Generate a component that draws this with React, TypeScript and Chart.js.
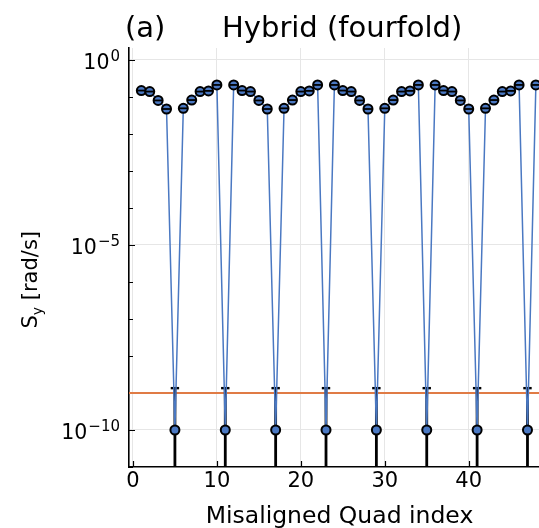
import React, { useEffect, useRef } from "react";
import { Chart, registerables } from "chart.js";

Chart.register(...registerables);

// ---- data ----
const quadIndex = [
  1, 2, 3, 4, 5, 6, 7, 8, 9, 10, 11, 12, 13, 14, 15, 16, 17, 18, 19, 20, 21, 22, 23, 24,
  25, 26, 27, 28, 29, 30, 31, 32, 33, 34, 35, 36, 37, 38, 39, 40, 41, 42, 43, 44, 45, 46, 47, 48,
];
const syValues = [
  0.148, 0.139, 0.08, 0.047, 1e-10, 0.049, 0.082, 0.139, 0.145, 0.21, 1e-10, 0.21,
  0.148, 0.139, 0.08, 0.047, 1e-10, 0.049, 0.082, 0.139, 0.145, 0.21, 1e-10, 0.21,
  0.148, 0.139, 0.08, 0.047, 1e-10, 0.049, 0.082, 0.139, 0.145, 0.21, 1e-10, 0.21,
  0.148, 0.139, 0.08, 0.047, 1e-10, 0.049, 0.082, 0.139, 0.145, 0.21, 1e-10, 0.21,
];
const dipIndex = [5, 11, 17, 23, 29, 35, 41, 47];
const dipUpper = [1.35e-9, 1.35e-9, 1.35e-9, 1.35e-9, 1.35e-9, 1.35e-9, 1.35e-9, 1.35e-9];
const dipLower = [1e-13, 1e-13, 1e-13, 1e-13, 1e-13, 1e-13, 1e-13, 1e-13]; // lower bound below the axis
const thresholdValue = 1e-9;
const xTickValues = [0, 10, 20, 30, 40];
const yTickValues = [1e-10, 1e-5, 1];
const yTickExponents = ["\u221210", "\u22125", "0"];
const yDecades = [1e-11, 1e-10, 1e-9, 1e-8, 1e-7, 1e-6, 1e-5, 1e-4, 1e-3, 1e-2, 1e-1, 1];

const X_MIN = -0.47;
const X_MAX = 51.47;
const Y_MIN = 1e-11;
const Y_MAX = 2.09;

const FONT = "'DejaVu Sans', 'Liberation Sans', sans-serif";
const BLUE = "#4a78c2";
const ORANGE = "#e07b45";

const textPlugin = {
  id: "textPlugin",
  beforeDatasetsDraw(chart: any) {
    const ctx = chart.ctx;
    const { left, bottom } = chart.chartArea;
    const xs = chart.scales.x;
    const ys = chart.scales.y;
    ctx.save();
    ctx.strokeStyle = "#000";
    ctx.lineWidth = 1.2;
    ctx.beginPath();
    yDecades.forEach((v) => {
      const py = Math.round(ys.getPixelForValue(v)) + 0.5;
      const len = yTickValues.includes(v) ? 6 : 4;
      ctx.moveTo(left, py);
      ctx.lineTo(left + len, py);
    });
    xTickValues.forEach((v) => {
      const px = Math.round(xs.getPixelForValue(v)) + 0.5;
      ctx.moveTo(px, bottom);
      ctx.lineTo(px, bottom - 6);
    });
    ctx.stroke();
    ctx.restore();
  },
  afterDraw(chart: any) {
    const ctx = chart.ctx;
    const ys = chart.scales.y;
    const { left } = chart.chartArea;
    ctx.save();
    ctx.fillStyle = "#000";
    ctx.textBaseline = "alphabetic";
    // y tick labels: 10^k with real superscripts
    yTickValues.forEach((v, i) => {
      const py = ys.getPixelForValue(v);
      const right = left - 9;
      ctx.font = `15px ${FONT}`;
      ctx.textAlign = "right";
      const ew = ctx.measureText(yTickExponents[i]).width;
      ctx.fillText(yTickExponents[i], right, py + 1.5);
      ctx.font = `20.5px ${FONT}`;
      ctx.fillText("10", right - ew - 1, py + 9.5);
    });
    // panel tag and title
    ctx.font = `29px ${FONT}`;
    ctx.textAlign = "left";
    ctx.fillText("(a)", 125, 37);
    ctx.fillText("Hybrid (fourfold)", 222, 37);
    // x axis title
    ctx.font = `23.5px ${FONT}`;
    ctx.textAlign = "center";
    ctx.fillText("Misaligned Quad index", 339.5, 522.5);
    // y axis title: S_y [rad/s]
    ctx.translate(37.3, 328.5);
    ctx.rotate(-Math.PI / 2);
    ctx.textAlign = "left";
    ctx.font = `21px ${FONT}`;
    ctx.fillText("S", 0, 0);
    let w = ctx.measureText("S").width;
    ctx.font = `14px ${FONT}`;
    ctx.fillText("y", w, 4.5);
    w += ctx.measureText("y").width;
    ctx.font = `21px ${FONT}`;
    ctx.fillText(" [rad/s]", w, 0);
    ctx.restore();
  },
};

export default function App() {
  const canvasRef = useRef<HTMLCanvasElement | null>(null);

  useEffect(() => {
    document.body.style.margin = "0";
    const canvas = canvasRef.current;
    if (!canvas) return;

    const mainData = quadIndex.map((x, i) => ({ x, y: syValues[i] }));
    const capData = quadIndex
      .map((x, i) => ({ x, y: syValues[i] }))
      .filter((p) => !dipIndex.includes(p.x));
    const barData: any[] = [];
    dipIndex.forEach((x, i) => {
      barData.push({ x, y: dipLower[i] });
      barData.push({ x, y: dipUpper[i] });
      barData.push({ x, y: null });
    });
    const dipCapData = dipIndex.map((x, i) => ({ x, y: dipUpper[i] }));

    const chart = new Chart(canvas, {
      type: "line",
      data: {
        datasets: [
          {
            label: "caps",
            data: capData,
            showLine: false,
            pointStyle: "line",
            pointRadius: 4.6,
            pointBorderWidth: 1.8,
            pointBorderColor: "#000",
            pointBackgroundColor: "#000",
            order: 0,
          } as any,
          {
            label: "S_y",
            data: mainData,
            borderColor: BLUE,
            borderWidth: 1.5,
            pointRadius: 4.5,
            pointBackgroundColor: BLUE,
            pointBorderColor: "#000",
            pointBorderWidth: 2,
            order: 1,
          },
          {
            label: "dip caps",
            data: dipCapData,
            showLine: false,
            pointStyle: "line",
            pointRadius: 4.2,
            pointBorderWidth: 2.4,
            pointBorderColor: "#000",
            order: 2,
          } as any,
          {
            label: "error bars",
            data: barData,
            borderColor: "#000",
            borderWidth: 2.8,
            pointRadius: 0,
            spanGaps: false,
            order: 3,
          },
          {
            label: "threshold",
            data: [
              { x: X_MIN, y: thresholdValue },
              { x: X_MAX, y: thresholdValue },
            ],
            borderColor: ORANGE,
            borderWidth: 2,
            pointRadius: 0,
            order: 4,
          },
        ],
      },
      options: {
        animation: false,
        responsive: false,
        devicePixelRatio: 1,
        layout: { autoPadding: false, padding: { top: 48, left: 0, right: 1, bottom: 0 } },
        plugins: {
          legend: { display: false },
          title: { display: false },
          tooltip: { enabled: false },
        },
        elements: { line: { tension: 0 } },
        scales: {
          x: {
            type: "linear",
            min: X_MIN,
            max: X_MAX,
            afterBuildTicks: (s: any) => {
              s.ticks = xTickValues.map((v) => ({ value: v }));
            },
            afterFit: (s: any) => {
              s.height = 61;
              s.paddingLeft = 0;
              s.paddingRight = 0;
            },
            ticks: {
              color: "#000",
              font: { family: FONT, size: 21 },
              padding: 2,
              maxRotation: 0,
              callback: (v: any) => String(v),
            },
            grid: { color: "#e6e6e6", lineWidth: 1, drawTicks: false },
            border: { display: true, color: "#000", width: 1.6 },
          },
          y: {
            type: "logarithmic",
            min: Y_MIN,
            max: Y_MAX,
            afterBuildTicks: (s: any) => {
              s.ticks = yTickValues.map((v) => ({ value: v }));
            },
            afterFit: (s: any) => {
              s.width = 129;
              s.paddingTop = 0;
              s.paddingBottom = 0;
            },
            ticks: { display: false },
            grid: { color: "#e6e6e6", lineWidth: 1, drawTicks: false },
            border: { display: true, color: "#000", width: 1.6 },
          },
        },
      },
      plugins: [textPlugin],
    });

    return () => chart.destroy();
  }, []);

  return (
    <div style={{ width: 539, height: 528, overflow: "hidden", position: "relative", background: "#fff" }}>
      <canvas ref={canvasRef} width={566} height={528} style={{ display: "block" }} />
    </div>
  );
}
